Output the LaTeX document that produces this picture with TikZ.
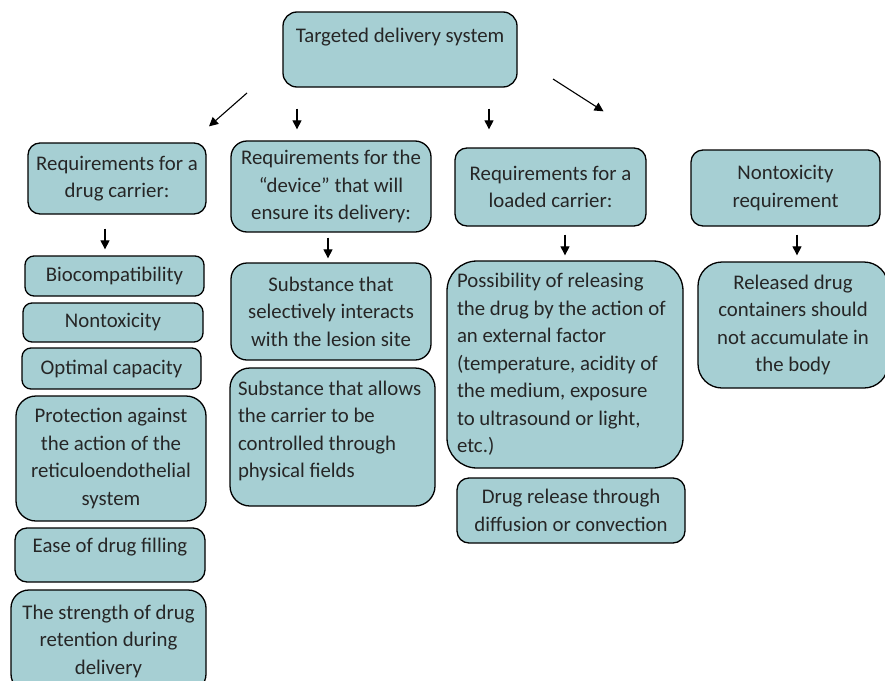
\documentclass[tikz,border=0pt]{standalone}
\usepackage{fontspec}
\setmainfont{Carlito}
\usepackage{xcolor}
\usepackage{tikz}
\usetikzlibrary{arrows.meta}

\definecolor{boxfill}{HTML}{A6CFD3}
\definecolor{boxtext}{HTML}{262626}

\begin{document}
\begin{tikzpicture}[
      x=1pt, y=-1pt,
      >={Triangle[length=9pt,width=9pt]},
      reqbox/.style={draw=black, line width=1.3pt, fill=boxfill, text=boxtext,
        rounded corners=12pt, inner sep=0pt, align=center,
        font=\fontsize{20.8}{27.5}\selectfont},
      leftbox/.style={reqbox, align=flush left},
      arr/.style={->, line width=1.1pt}
    ]
    \useasboundingbox (0,0) rectangle (885,680);
    \clip (0,0) rectangle (885,680);

    % Top
    \node[reqbox, minimum width=234, minimum height=75, rounded corners=14pt] (target) at (400,49.5)
      {Targeted delivery system\\\mbox{}};

    % Requirement groups
    \node[reqbox, minimum width=178, minimum height=71] (carrier) at (117,178.5)
      {Requirements for a\\drug carrier:};
    \node[reqbox, minimum width=200, minimum height=91, rounded corners=16pt] (device) at (331,186.5)
      {Requirements for the\\``device'' that will\\ensure its delivery:};
    \node[reqbox, minimum width=191, minimum height=78] (loaded) at (550.5,187)
      {Requirements for a\\loaded carrier:};
    \node[reqbox, minimum width=189, minimum height=76] (nontox) at (785.5,188)
      {Nontoxicity\\requirement};

    % Drug carrier
    \node[reqbox, minimum width=179, minimum height=40, rounded corners=9pt] (biocomp) at (114.5,276)
      {Biocompatibility};
    \node[reqbox, minimum width=180, minimum height=39, rounded corners=9pt] (nontoxic) at (113,322.5)
      {Nontoxicity};
    \node[reqbox, minimum width=179, minimum height=41, rounded corners=9pt] (capacity) at (111.5,368.5)
      {Optimal capacity};
    \node[reqbox, minimum width=190, minimum height=125, rounded corners=20pt] (protect) at (111,458.5)
      {Protection against\\the action of the\\reticuloendothelial\\system};
    \node[reqbox, minimum width=190, minimum height=54] (filling) at (110,555)
      {Ease of drug filling\\[-8pt]\mbox{}};
    \node[reqbox, minimum width=195, minimum height=102, rounded corners=18pt] (retention) at (108.5,641)
      {The strength of drug\\retention during\\delivery};

    % Device
    \node[reqbox, minimum width=200, minimum height=97, rounded corners=16pt] (selective) at (331,311.5)
      {Substance that\\selectively interacts\\with the lesion site};
    \node[leftbox, minimum width=205, minimum height=138, text width=189, rounded corners=20pt] (fields) at (332.5,437)
      {Substance that allows\\the carrier to be\\controlled through\\physical fields\\[-12pt]\mbox{}};

    % Loaded carrier
    \node[leftbox, minimum width=236, minimum height=207, text width=216, rounded corners=30pt] (external) at (565,364.5)
      {Possibility of releasing\\the drug by the action of\\an external factor\\(temperature, acidity of\\the medium, exposure\\to ultrasound or light,\\etc.)};
    \node[reqbox, minimum width=228, minimum height=65] (diffusion) at (571,510.5)
      {Drug release through\\diffusion or convection};

    % Nontoxicity
    \node[reqbox, minimum width=190, minimum height=126, rounded corners=24pt] (released) at (793,325)
      {Released drug\\containers should\\not accumulate in\\the body};

    % Arrows
    \coordinate (tl) at (247,93);
    \coordinate (tr) at (553,79);
    \draw[arr] (tl) -- ([shift={(92,-16)}]carrier.north);
    \draw[arr, shorten <=21pt, shorten >=11pt] (target.south -| 297,0) -- (device.north -| 297,0);
    \draw[arr, shorten <=21pt, shorten >=18pt] (target.south -| 489,0) -- (loaded.north -| 489,0);
    \draw[arr] (tr) -- ([shift={(-182,-38)}]nontox.north);

    \draw[arr, shorten <=14pt, shorten >=6pt] (carrier.south -| 105,0) -- (biocomp.north -| 105,0);
    \draw[arr, shorten <=5pt, shorten >=4pt] (device.south -| 328,0) -- (selective.north -| 328,0);
    \draw[arr, shorten <=8pt, shorten >=5pt] (loaded.south -| 565,0) -- (external.north -| 565,0);
    \draw[arr, shorten <=8pt, shorten >=6pt] (nontox.south -| 797,0) -- (released.north -| 797,0);
  \end{tikzpicture}
\end{document}
